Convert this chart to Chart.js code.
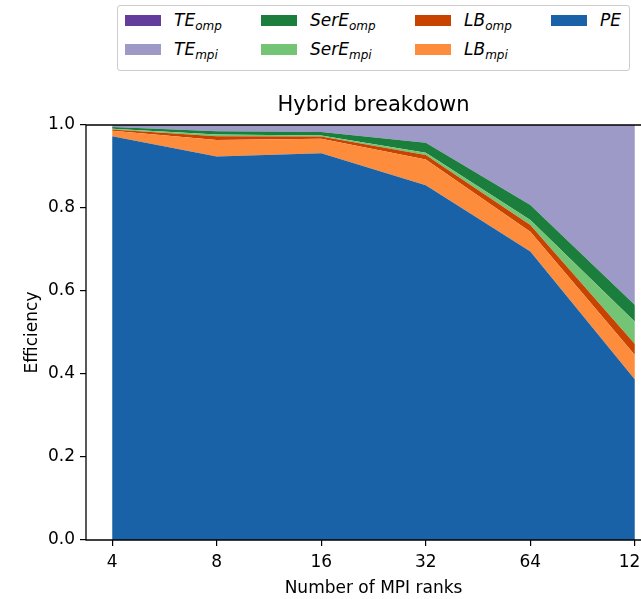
<!DOCTYPE html>
<html>
<head>
<meta charset="utf-8">
<script src="https://cdn.jsdelivr.net/npm/chart.js@4/dist/chart.umd.min.js"></script>
<style>
  html, body { margin: 0; padding: 0; background: #fff; overflow: hidden; width: 641px; height: 599px; }
  #wrap { position: absolute; left: 0; top: 0; width: 747px; height: 599px; }
  #legendBox {
    position: absolute; left: 117px; top: 5px; width: 511px; height: 64px;
    border: 1px solid #cccccc; border-radius: 3px; background: #fff;
    font-family: "DejaVu Sans", sans-serif;
  }
  .patch { position: absolute; width: 36px; height: 11px; }
  .lbl { position: absolute; font-size: 17px; line-height: 17px; font-style: italic; color: #000; white-space: nowrap; }
  .lbl sub { font-size: 12px; vertical-align: -3.5px; line-height: 1; }
</style>
</head>
<body>
<div id="wrap"><canvas id="hybridChart" width="747" height="599"></canvas></div>
<div id="legendBox"></div>
<script>
  // data
  const rankLabels = ["4", "8", "16", "32", "64", "128"];
  const pe      = [0.973, 0.924, 0.932, 0.855, 0.695, 0.387];
  const lbMpi   = [0.013, 0.040, 0.035, 0.062, 0.048, 0.059];
  const lbOmp   = [0.003, 0.009, 0.005, 0.011, 0.016, 0.026];
  const serEMpi = [0.002, 0.004, 0.003, 0.005, 0.012, 0.054];
  const serEOmp = [0.004, 0.008, 0.008, 0.024, 0.036, 0.040];
  const teMpi   = [0.005, 0.015, 0.017, 0.043, 0.193, 0.434];
  const teOmp   = [0, 0, 0, 0, 0, 0];

  // bottom to top stack order
  const series = [
    { name: "PE",   sub: "",    values: pe,      color: "#1a62a8" },
    { name: "LB",   sub: "mpi", values: lbMpi,   color: "#fd8d3c" },
    { name: "LB",   sub: "omp", values: lbOmp,   color: "#c94300" },
    { name: "SerE", sub: "mpi", values: serEMpi, color: "#74c476" },
    { name: "SerE", sub: "omp", values: serEOmp, color: "#1b7e3c" },
    { name: "TE",   sub: "mpi", values: teMpi,   color: "#9e9ac8" },
    { name: "TE",   sub: "omp", values: teOmp,   color: "#643c9c" }
  ];

  Chart.defaults.font.family = '"DejaVu Sans", sans-serif';
  Chart.defaults.color = "#000";

  // matplotlib-like frame drawn over the areas
  const spines = {
    id: "spines",
    afterDatasetsDraw(chart) {
      const a = chart.chartArea, c = chart.ctx;
      c.save();
      c.strokeStyle = "#000";
      c.lineWidth = 1.3;
      c.beginPath();
      c.rect(a.left, a.top, a.right - a.left, a.bottom - a.top);
      c.stroke();
      c.restore();
    }
  };

  const datasets = series.map((s, k) => ({
    label: s.name + s.sub,
    data: s.values.map((v, i) => ({ x: i, y: v })),
    fill: k === 0 ? "origin" : "-1",
    backgroundColor: s.color,
    borderWidth: 0,
    pointRadius: 0,
    pointHoverRadius: 0,
    tension: 0
  }));

  new Chart(document.getElementById("hybridChart").getContext("2d"), {
    type: "line",
    data: { datasets },
    options: {
      responsive: false,
      animation: false,
      devicePixelRatio: 1,
      layout: { padding: { top: 80, left: 0, right: 0, bottom: 0 } },
      plugins: {
        legend: { display: false },
        tooltip: { enabled: false },
        title: {
          display: true,
          text: "Hybrid breakdown",
          font: { size: 21, weight: "normal" },
          color: "#000",
          padding: { top: 13.4, bottom: 6.4 }
        }
      },
      scales: {
        x: {
          type: "linear",
          min: -0.25, max: 5.25,
          afterBuildTicks: s => { s.ticks = rankLabels.map((_, i) => ({ value: i })); },
          afterFit: s => { s.height = 59; },
          ticks: {
            callback: v => rankLabels[v],
            font: { size: 17 }, color: "#000", padding: 6,
            maxRotation: 0, autoSkip: false
          },
          grid: { drawOnChartArea: false, color: "#000", tickLength: 6, lineWidth: 1.2 },
          border: { display: false },
          title: {
            display: true, text: "Number of MPI ranks",
            font: { size: 17 }, color: "#000",
            padding: { top: 2, bottom: 0 }
          }
        },
        y: {
          stacked: true,
          min: 0, max: 1,
          afterFit: s => { s.width = 86; },
          ticks: { stepSize: 0.2, callback: v => v.toFixed(1), font: { size: 17 }, color: "#000", padding: 5 },
          grid: { drawOnChartArea: false, color: "#000", tickLength: 6, lineWidth: 1.2 },
          border: { display: false },
          title: {
            display: true, text: "Efficiency",
            font: { size: 17 }, color: "#000",
            padding: { top: 22.8, bottom: 0 }
          }
        },
        y2: {
          position: "right",
          min: 0, max: 1,
          afterFit: s => { s.width = 86; },
          ticks: { display: false },
          grid: { display: false },
          border: { display: false }
        }
      }
    },
    plugins: [spines]
  });

  // legend with subscripts, matplotlib column order
  const legendOrder = [6, 5, 4, 3, 2, 1, 0];
  const colPatchX = [7, 143, 297, 433];
  const rowPatchY = [9, 38];
  let legendHTML = "";
  legendOrder.forEach((idx, n) => {
    const s = series[idx];
    const col = Math.floor(n / 2), row = n % 2;
    const px = colPatchX[col], py = rowPatchY[row];
    legendHTML += `<div class="patch" style="left:${px}px;top:${py}px;background:${s.color}"></div>`;
    legendHTML += `<div class="lbl" style="left:${px + 49}px;top:${py - 3.4}px">${s.name}${s.sub ? "<sub>" + s.sub + "</sub>" : ""}</div>`;
  });
  document.getElementById("legendBox").innerHTML = legendHTML;
</script>
</body>
</html>
